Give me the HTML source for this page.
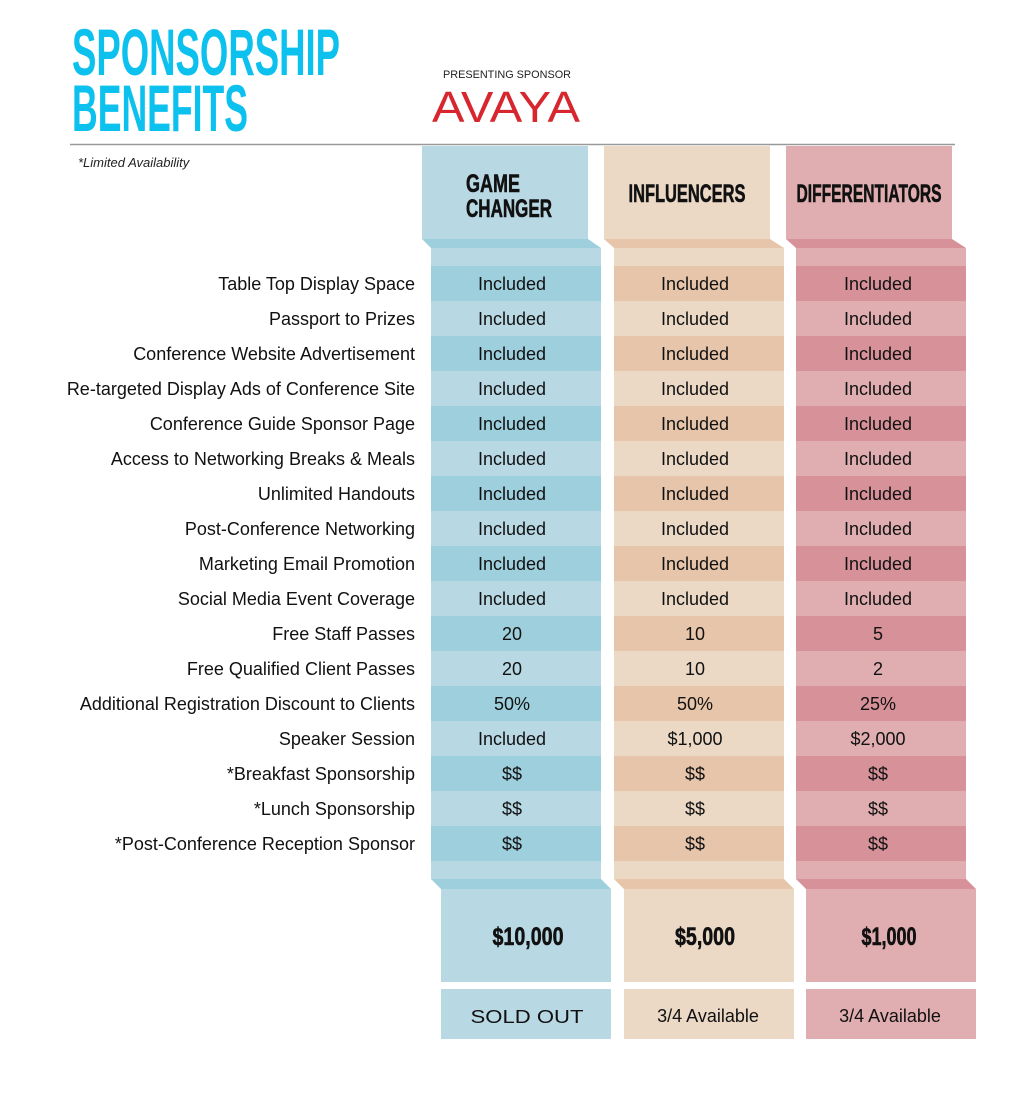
<!DOCTYPE html>
<html><head><meta charset="utf-8"><style>
html,body{margin:0;padding:0;background:#fff;}
svg{display:block;}
text{font-family:"Liberation Sans",sans-serif;}
.lbl{font-size:18px;fill:#111;text-anchor:end;}
.val{font-size:18px;fill:#111;text-anchor:middle;}
.hd{font-size:25px;font-weight:bold;fill:#111;text-anchor:middle;stroke:#111;stroke-width:0.6;}
</style></head><body>
<svg id="s" width="1020" height="1095" viewBox="0 0 1020 1095" xmlns="http://www.w3.org/2000/svg">
<text x="72" y="75" font-size="66" font-weight="bold" fill="#0cc1ee" textLength="268" lengthAdjust="spacingAndGlyphs">SPONSORSHIP</text>
<text x="72" y="131" font-size="66" font-weight="bold" fill="#0cc1ee" textLength="176" lengthAdjust="spacingAndGlyphs">BENEFITS</text>
<text x="443" y="78" font-size="11" fill="#222" textLength="128" lengthAdjust="spacingAndGlyphs">PRESENTING SPONSOR</text>
<text x="432" y="122" font-size="44" fill="#d7262e" textLength="148" lengthAdjust="spacingAndGlyphs">AVAYA</text>
<line x1="70" y1="144.5" x2="955" y2="144.5" stroke="#999" stroke-width="1.5"/>
<text x="78" y="167" font-size="13" font-style="italic" fill="#222">*Limited Availability</text>
<g id="cols"></g>
</svg>
<script>
const categories=["Table Top Display Space","Passport to Prizes","Conference Website Advertisement","Re-targeted Display Ads of Conference Site","Conference Guide Sponsor Page","Access to Networking Breaks & Meals","Unlimited Handouts","Post-Conference Networking","Marketing Email Promotion","Social Media Event Coverage","Free Staff Passes","Free Qualified Client Passes","Additional Registration Discount to Clients","Speaker Session","*Breakfast Sponsorship","*Lunch Sponsorship","*Post-Conference Reception Sponsor"];
const gameChanger=["Included","Included","Included","Included","Included","Included","Included","Included","Included","Included","20","20","50%","Included","$$","$$","$$"];
const influencers=["Included","Included","Included","Included","Included","Included","Included","Included","Included","Included","10","10","50%","$1,000","$$","$$","$$"];
const differentiators=["Included","Included","Included","Included","Included","Included","Included","Included","Included","Included","5","2","25%","$2,000","$$","$$","$$"];
const tiers=["GAME|CHANGER","INFLUENCERS","DIFFERENTIATORS"];
const prices=["$10,000","$5,000","$1,000"];
const status=["SOLD OUT","3/4 Available","3/4 Available"];
const series=[gameChanger,influencers,differentiators];
const light=["#b8d8e4","#ebd9c6","#e0aeb0"],dark=["#9ecfdd","#e6c5aa","#d79199"];
const hx=[422,604,786],bx=[431,614,796],px=[441,624,806],W=170;
const ns="http://www.w3.org/2000/svg",g=document.getElementById('cols');
function el(t,a,txt){const e=document.createElementNS(ns,t);for(const k in a)e.setAttribute(k,a[k]);if(txt!=null)e.textContent=txt;g.appendChild(e);return e;}
const rowY=i=>266+i*35;
categories.forEach((c,i)=>{const t=el('text',{x:415,y:rowY(i)+24,class:'lbl'},c);

});
series.forEach((s,j)=>{
 let r=el('rect',{x:hx[j],y:146,width:166,height:93,fill:light[j]});
 
 
 el('polygon',{points:`${hx[j]},239 ${hx[j]+166},239 ${bx[j]+W},248 ${bx[j]},248`,fill:dark[j]});
 el('rect',{x:bx[j],y:248,width:W,height:18,fill:light[j]});
 const parts=tiers[j].split('|');
 parts.forEach((p,k)=>{const t=el('text',{x:hx[j]+(j==0?44:83),y:(parts.length>1?192:202)+k*25,class:'hd',textLength:j==0?(k?86:54):(j==1?117:145),lengthAdjust:'spacingAndGlyphs',style:j==0?'text-anchor:start':''},p);
  
  });
 s.forEach((v,i)=>{
  const c=el('rect',{x:bx[j],y:rowY(i),width:W,height:35,fill:i%2?light[j]:dark[j]});
  
  
  const t=el('text',{x:bx[j]+W/2+(j==0?-4:(j==1?-4:-3)),y:rowY(i)+24,class:'val'},v);
  
  
 });
 const yb=rowY(categories.length);
 el('rect',{x:bx[j],y:yb,width:W,height:18,fill:light[j]});
 el('polygon',{points:`${bx[j]},${yb+18} ${bx[j]+W},${yb+18} ${px[j]+W},${yb+28} ${px[j]},${yb+28}`,fill:dark[j]});
 const p=el('rect',{x:px[j],y:yb+28,width:W,height:93,fill:light[j]});
 
 
 const pt=el('text',{x:px[j]+W/2+(j==0?2:(j==1?-4:-2)),y:yb+84,class:'hd',textLength:[71,60,55][j],lengthAdjust:'spacingAndGlyphs'},prices[j]);
 
 
 const sb=el('rect',{x:px[j],y:yb+128,width:W,height:50,fill:light[j]});
 
 
 const st=el('text',j==0?{x:px[j]+W/2+1,y:yb+162,class:'val','font-size':23,textLength:113,lengthAdjust:'spacingAndGlyphs'}:{x:px[j]+W/2-1,y:yb+161,class:'val'},status[j]);
 
 
});
</script>
</body></html>
